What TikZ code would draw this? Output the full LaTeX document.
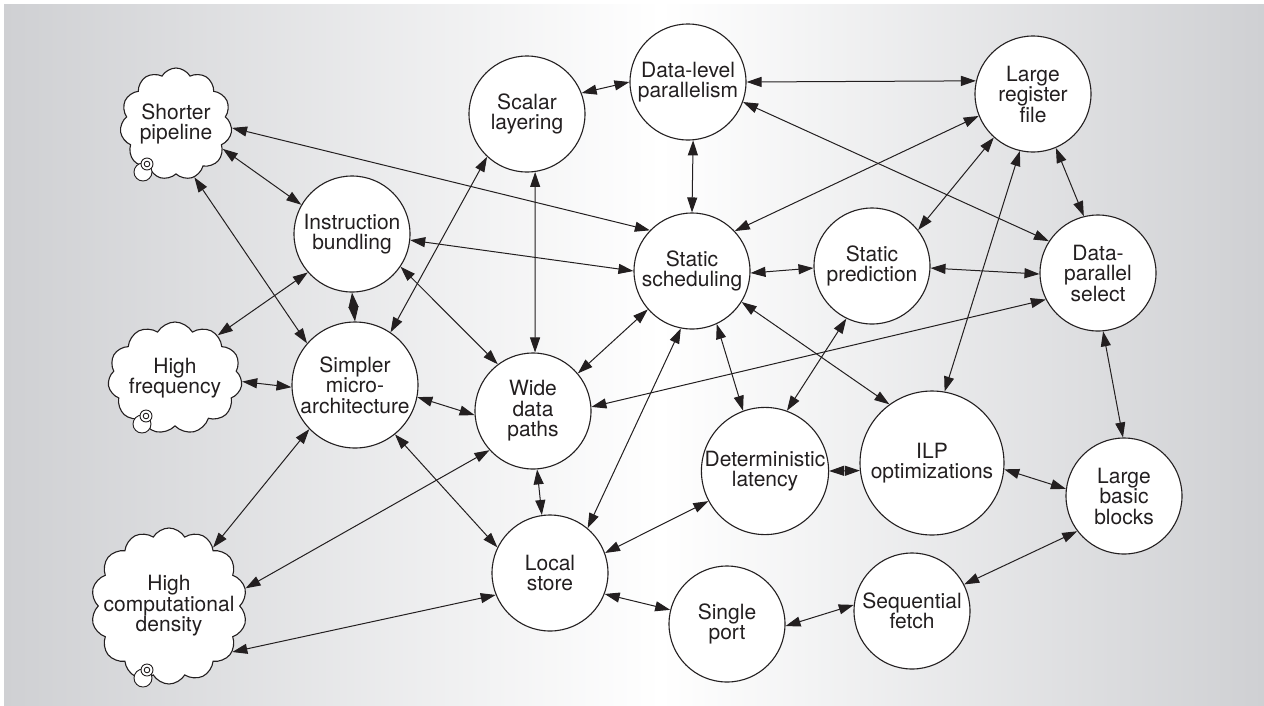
\documentclass[tikz,border=0pt]{standalone}
\usepackage{fontspec}
\setmainfont{TeX Gyre Heros}
\usepackage[dvipsnames]{xcolor}
\usepackage{tikz}
\usetikzlibrary{arrows, arrows.meta, positioning, shapes}
\definecolor{ink}{RGB}{35,31,32}
\definecolor{panel}{RGB}{207,208,211}
\tikzset{
        topic/.style={ % round node, #1 is the radius
		circle,
		draw=ink,
		fill=white,
		line width=1.1pt,
		inner sep=0pt,
		align=center,
		minimum size={2*#1pt},
	  },
        thought/.style={ % cloud node, #1 is the number of puffs
		cloud,
		cloud puffs=#1,
		cloud puff arc=120,
		cloud ignores aspect,
		draw=ink,
		fill=white,
		line width=1.1pt,
		inner sep=0pt,
		align=center,
	  },
  		bubble/.style={
    	draw=ink,
    	fill=white,
    	line width=0.9pt,
      },
  		link/.style={
    	{Triangle[length=15pt,width=10pt]}-{Triangle[length=15pt,width=10pt]},
    	draw=ink,
    	line width=1pt,
      }
  	}

\begin{document}
\begin{tikzpicture}[x=1pt, y=-1pt, font=\fontsize{21}{20.5}\selectfont, text=ink]
    \useasboundingbox (0,0) rectangle (1264,705);
    \fill[white] (0,0) rectangle (1264,705);
    \fill[left color=panel, right color=white] (4,4) rectangle (661,705);
    \fill[left color=white, right color=panel] (660,4) rectangle (1264,705);
    \node [thought=11, minimum width=112pt, minimum height=112pt] (10) at (176,124) {Shorter\\pipeline};
    \node [thought=11, minimum width=112pt, minimum height=112pt] (11) at (175,378) {High\\frequency};
    \node [thought=14, inner xsep=-25pt, minimum width=156pt, minimum height=156pt] (12) at (169,606) {High\\computational\\density};
    \node [topic=58] (20) at (352,234) {Instruction\\bundling};
    \node [topic=63] (21) at (355,385) {Simpler\\micro-\\architecture};
    \node [topic=58] (30) at (527,114) {Scalar\\layering};
    \node [topic=58] (31) at (533,411) {Wide\\data\\paths};
    \node [topic=58] (32) at (550,573) {Local\\store};
    \node [topic=58] (40) at (688,82) {Data-level\\parallelism};
    \node [topic=58] (41) at (692,271) {Static\\scheduling};
    \node [topic=63] (42) at (765,471) {Deterministic\\latency};
    \node [topic=58] (43) at (727,624) {Single\\port};
    \node [topic=58] (50) at (872,266) {Static\\prediction};
    \node [topic=72] (51) at (932,463) {ILP\\optimizations};
    \node [topic=58] (52) at (912,611) {Sequential\\fetch};
    \node [topic=58] (60) at (1033,94) {Large\\register\\file};
    \node [topic=58] (61) at (1098,273) {Data-\\parallel\\select};
    \node [topic=58] (62) at (1124,496) {Large\\basic\\blocks};
    \draw [bubble] (143,172) circle[radius=9pt];
    \draw [bubble] (147,164) circle[radius=6pt];
    \draw [bubble] (147,164) circle[radius=2.8pt];
    \draw [bubble] (142,424) circle[radius=9pt];
    \draw [bubble] (146,416) circle[radius=6pt];
    \draw [bubble] (146,416) circle[radius=2.8pt];
    \draw [bubble] (143,678) circle[radius=9pt];
    \draw [bubble] (147,670) circle[radius=6pt];
    \draw [bubble] (147,670) circle[radius=2.8pt];
    \draw [link] (10.-28) -- (20.150);
    \draw [link] (10.-71) -- (21.139);
    \draw [link] (10.-4) -- (41.136);
    \draw [link] (20.221) -- (11.45);
    \draw [link] (20.south) -- (21.north);
    \draw [link] (20.-6) -- (41.180);
    \draw [link] (20.-34) -- (31.127);
    \draw [link] (30.227) -- (21.56);
    \draw [link] (30.21) -- (40.180);
    \draw [link] (30.-82) -- (31.88);
    \draw [link] (40.-85) -- (41.90);
    \draw [link] (40.0) -- (60.167);
    \draw [link] (40.-20) -- (61.147);
    \draw [link] (41.43) -- (60.202);
    \draw [link] (41.-2) -- (50.182);
    \draw [link] (41.221) -- (31.40);
    \draw [link] (41.259) -- (32.50);
    \draw [link] (41.-65) -- (42.110);
    \draw [link] (41.-32) -- (51.126);
    \draw [link] (50.38) -- (60.228);
    \draw [link] (50.-2) -- (61.181);
    \draw [link] (50.244) -- (42.70);
    \draw [link] (60.257) -- (51.80);
    \draw [link] (60.-67) -- (61.104);
    \draw [link] (61.207) -- (31.4);
    \draw [link] (61.-85) -- (62.91);
    \draw [link] (11.-3) -- (21.182);
    \draw [link] (21.-11) -- (31.184);
    \draw [link] (21.224) -- (12.53);
    \draw [link] (21.-51) -- (32.154);
    \draw [link] (31.-86) -- (32.98);
    \draw [link] (31.222) -- (12.13);
    \draw [link] (32.202) -- (12.-36);
    \draw [link] (32.20) -- (42.208);
    \draw [link] (32.-21) -- (43.166);
    \draw [link] (42.0) -- (51.186);
    \draw [link] (51.-5) -- (62.173);
    \draw [link] (43.-2) -- (52.174);
    \draw [link] (52.27) -- (62.217);
\end{tikzpicture}
\end{document}
